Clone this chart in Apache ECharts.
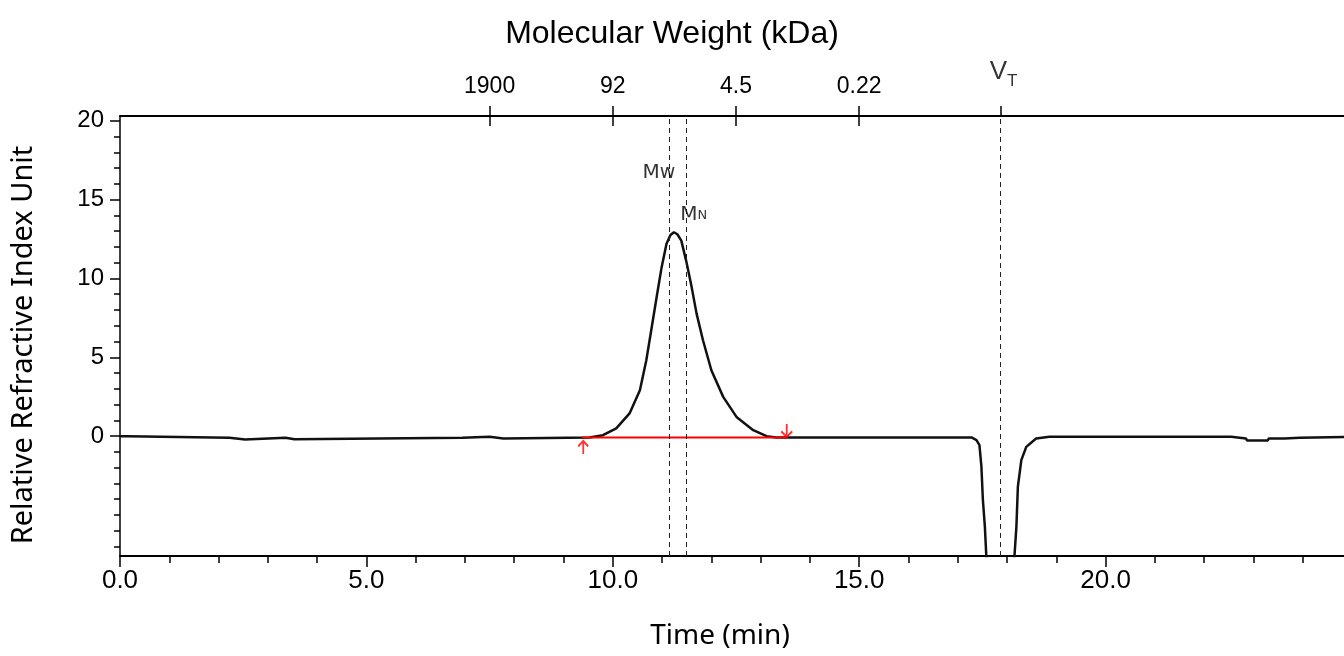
<!DOCTYPE html>
<html>
<head>
<meta charset="utf-8">
<title>SEC chromatogram</title>
<script src="https://cdn.jsdelivr.net/npm/echarts@6.0.0/dist/echarts.min.js"></script>
<style>
  html, body { margin: 0; padding: 0; background: #fff; }
  #chart { width: 1344px; height: 656px; }
</style>
</head>
<body>
<div id="chart"></div>
<script>
// retention time (min) and RI signal
var timeMin = [0, 0.15, 0.18, 2.22, 2.25, 2.54, 2.57, 3.36, 3.39, 3.54, 3.57, 6.95, 6.98, 7.5, 7.53, 7.78, 7.81,
    9.53, 9.80, 10.07, 10.34, 10.55, 10.68, 10.78, 10.89, 10.99, 11.09, 11.17, 11.24, 11.31, 11.39, 11.49, 11.6,
    11.7, 11.83, 12.0, 12.24, 12.51, 12.85, 13.12, 13.32,
    17.28, 17.38, 17.44, 17.48, 17.51, 17.55, 17.58, 17.62, 18.12, 18.15, 18.19, 18.22, 18.29, 18.39, 18.59, 18.86,
    22.55, 22.57, 22.85, 22.87, 23.29, 23.31, 23.63, 23.65, 23.94, 23.96, 25];
var riu = [0, 0, -0.1, -0.1, -0.22, -0.22, -0.1, -0.1, -0.2, -0.2, -0.1, -0.1, -0.04, -0.04, -0.15, -0.15, -0.1,
    -0.08, 0.06, 0.49, 1.44, 2.91, 4.81, 6.71, 8.82, 10.7, 12.2, 12.75, 12.93, 12.8, 12.4, 11.1, 9.45,
    7.77, 6.08, 4.18, 2.49, 1.22, 0.38, 0.0, -0.08,
    -0.08, -0.25, -0.57, -1.94, -4.05, -5.74, -7.64, -15, -15, -7.64, -5.74, -3.2, -1.52, -0.68, -0.15, -0.04,
    -0.04, -0.15, -0.15, -0.28, -0.28, -0.15, -0.15, -0.1, -0.1, -0.04, -0.04];

// integration window (min) and its baseline level
var integrationRange = [9.38, 13.55];
var baselineLevel = -0.08;

// dashed markers: Mw, MN, total volume
var markerNames = ['Mw', 'MN', 'VT'];
var markerTimes = [11.14, 11.5, 17.87];

// top axis: molecular weight calibration (kDa)
var mwTickTimes = [7.5, 10, 12.5, 15];
var mwTickLabels = ['1900', '92', '4.5', '0.22'];

// left axis ticks
var yLabelTicks = [0, 5, 10, 15, 20];
var yMinorTicks = [-7, -6, -5, -4, -3, -2, -1, 0, 1, 2, 3, 4, 5, 6, 7, 8, 9, 10, 11, 12, 13, 14, 15, 16, 17, 18, 19, 20];

var signal = [];
for (let i = 0; i < timeMin.length; i++) {
    signal.push([timeMin[i], riu[i]]);
}

var black = '#000';
var tickFont = 'Liberation Sans, Arial, sans-serif';
var nameFont = 'Noto Sans, Open Sans, sans-serif';
var markFont = 'DejaVu Sans, sans-serif';

function markerLabel(name) {
    return '{m|' + name.charAt(0) + '}{s|' + name.slice(1) + '}';
}

var myChart = echarts.init(document.getElementById('chart'));

var option = {
    animation: false,
    backgroundColor: '#fff',
    title: {
        text: 'Molecular Weight (kDa)',
        left: 'center',
        top: 13,
        textStyle: { fontFamily: tickFont, fontSize: 32, fontWeight: 'normal', color: black }
    },
    grid: { left: 120, top: 116, width: 1232, height: 440, outerBoundsMode: 'none', containLabel: false },
    xAxis: [{
        type: 'value',
        position: 'bottom',
        min: 0,
        max: 25,
        interval: 5,
        name: 'Time (min)',
        nameLocation: 'middle',
        nameGap: 66,
        nameTextStyle: { fontFamily: nameFont, fontSize: 28, color: black, padding: [0, 32, 0, 0] },
        axisLine: { onZero: false, lineStyle: { color: black, width: 1.8 } },
        axisTick: { length: 11, lineStyle: { color: black, width: 1.5 } },
        minorTick: { show: true, splitNumber: 5, length: 7, lineStyle: { color: black, width: 1.5 } },
        axisLabel: {
            fontFamily: tickFont, fontSize: 26, color: black, margin: 12,
            formatter: function(v) { return v >= 25 ? '' : v.toFixed(1); }
        },
        splitLine: { show: false }
    }, {
        type: 'value',
        position: 'top',
        min: 0,
        max: 25,
        axisLine: { onZero: false, lineStyle: { color: black, width: 2 } },
        axisTick: { customValues: mwTickTimes.concat([markerTimes[2]]), length: 10, lineStyle: { color: black, width: 1.5 } },
        axisLabel: {
            customValues: mwTickTimes,
            fontFamily: tickFont, fontSize: 23, color: black, margin: 18,
            formatter: function(v) {
                var i = mwTickTimes.indexOf(v);
                return i >= 0 ? mwTickLabels[i] : '';
            }
        },
        splitLine: { show: false }
    }, {
        type: 'value',
        position: 'top',
        min: 0,
        max: 25,
        axisLine: { show: false, onZero: false },
        axisTick: { customValues: mwTickTimes, inside: true, length: 10, lineStyle: { color: black, width: 1.5 } },
        axisLabel: { show: false },
        splitLine: { show: false }
    }],
    yAxis: [{
        type: 'value',
        position: 'left',
        min: -7.6,
        max: 20.3,
        name: 'Relative Refractive Index Unit',
        nameLocation: 'middle',
        nameGap: 82,
        nameRotate: 90,
        nameTextStyle: { fontFamily: nameFont, fontSize: 29, color: black, padding: [0, 18, 0, 0] },
        axisLine: { onZero: false, lineStyle: { color: black, width: 1.5 } },
        axisTick: { customValues: yLabelTicks, length: 10, lineStyle: { color: black, width: 1.5 } },
        axisLabel: { customValues: yLabelTicks, fontFamily: tickFont, fontSize: 24, color: black, margin: 16 },
        splitLine: { show: false }
    }, {
        type: 'value',
        position: 'left',
        offset: 0,
        min: -7.6,
        max: 20.3,
        axisLine: { show: false, onZero: false },
        axisTick: { customValues: yMinorTicks, length: 6, lineStyle: { color: black, width: 1.5 } },
        axisLabel: { show: false },
        splitLine: { show: false }
    }],
    series: [{
        name: 'RI',
        type: 'line',
        data: signal,
        showSymbol: false,
        silent: true,
        lineStyle: { color: '#111', width: 2.5 },
        markLine: {
            silent: true,
            symbol: 'none',
            label: { show: false },
            lineStyle: { color: '#222', width: 1, type: [5, 4] },
            data: markerTimes.map(function(t) { return { xAxis: t }; })
        },
        z: 2
    }, {
        name: 'integration',
        type: 'line',
        data: [[integrationRange[0], baselineLevel], [integrationRange[1], baselineLevel]],
        showSymbol: false,
        silent: true,
        lineStyle: { color: '#ff0000', width: 2 },
        z: 3
    }, {
        name: 'arrows',
        type: 'scatter',
        silent: true,
        clip: false,
        itemStyle: { color: 'rgba(0,0,0,0)', borderColor: '#ff0000', borderWidth: 2 },
        data: [{
            value: [integrationRange[0], baselineLevel],
            symbol: 'path://M5,0L5,14M0,6L5,0L10,6',
            symbolSize: [10, 13],
            symbolOffset: [1, 10]
        }, {
            value: [integrationRange[1], baselineLevel],
            symbol: 'path://M5,14L5,0M0,8L5,14L10,8',
            symbolSize: [11, 13],
            symbolOffset: [-1, -7]
        }],
        z: 4
    }, {
        name: 'marker labels',
        type: 'scatter',
        silent: true,
        clip: false,
        symbolSize: 0,
        label: {
            show: true,
            position: 'inside',
            color: '#000',
            formatter: function(p) { return markerLabel(markerNames[p.dataIndex]); },
            rich: {
                m: { fontFamily: markFont, fontSize: 20, verticalAlign: 'bottom', color: '#000' },
                s: { fontFamily: markFont, fontSize: 19, verticalAlign: 'bottom', color: '#000' }
            }
        },
        data: [{
            value: [markerTimes[0], 16.7],
            label: { offset: [-10, 0] }
        }, {
            value: [markerTimes[1], 14.05],
            label: {
                offset: [7, 0],
                rich: {
                    m: { fontFamily: markFont, fontSize: 20, verticalAlign: 'bottom', color: '#000' },
                    s: { fontFamily: markFont, fontSize: 13, verticalAlign: 'bottom', color: '#000', padding: [0, 0, 2, 0] }
                }
            }
        }, {
            value: [markerTimes[2], 20.3],
            label: {
                offset: [3, -42],
                color: black,
                rich: {
                    m: { fontFamily: tickFont, fontSize: 26, verticalAlign: 'bottom', color: black, padding: [0, 0, 5, 0] },
                    s: { fontFamily: tickFont, fontSize: 17, verticalAlign: 'bottom', color: black }
                }
            }
        }],
        z: 5
    }]
};

myChart.setOption(option);
</script>
</body>
</html>
